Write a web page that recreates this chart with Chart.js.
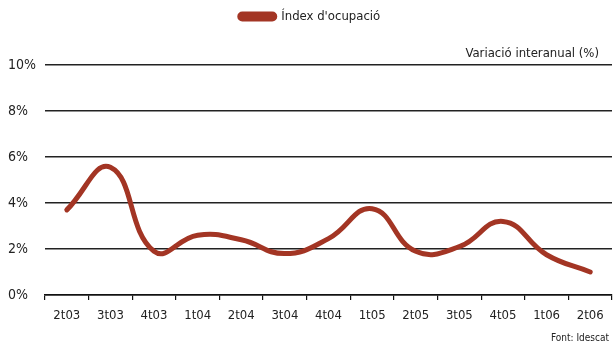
<!DOCTYPE html>
<html>
<head>
<meta charset="utf-8">
<script src="https://cdn.jsdelivr.net/npm/chart.js@4"></script>
<style>
    html, body { margin: 0; padding: 0; background: #fff; }
    #wrap { width: 615px; height: 344px; }
</style>
</head>
<body>
<div id="wrap"><canvas id="ocupacioChart" width="615" height="344"></canvas></div>
<script>
// data
const quarters = ['2t03', '3t03', '4t03', '1t04', '2t04', '3t04', '4t04', '1t05', '2t05', '3t05', '4t05', '1t06', '2t06'];
const ocupacio = [3.7, 5.55, 1.9, 2.6, 2.4, 1.8, 2.45, 3.75, 1.9, 2.1, 3.2, 1.75, 1.0];
const yTicks = [0, 2, 4, 6, 8, 10];

const fontFamily = '"DejaVu Sans Condensed", "Liberation Sans Narrow", sans-serif';
const lineColor = '#a33524';

// extra texts: axis caption and source, plus room under the legend
const textPlugin = {
    id: 'extraTexts',
    beforeInit(chart) {
        const oldFit = chart.legend.fit;
        chart.legend.fit = function () {
            oldFit.call(this);
            this.height += 32;
        };
    },
    afterDraw(chart) {
        const ctx = chart.ctx;
        const area = chart.chartArea;
        ctx.save();
        ctx.fillStyle = '#222';
        ctx.font = '13px ' + fontFamily;
        ctx.textAlign = 'right';
        ctx.textBaseline = 'alphabetic';
        ctx.fillText('Variació interanual (%)', area.right - 13, area.top - 8);
        ctx.font = '10px ' + fontFamily;
        ctx.fillText('Font: Idescat', area.right - 3, 341);
        ctx.restore();
    }
};

let ocupacioChart = new Chart(document.getElementById('ocupacioChart'), {
    type: 'line',
    data: {
        labels: quarters,
        datasets: [{
            label: "Índex d'ocupació",
            data: ocupacio,
            borderColor: lineColor,
            backgroundColor: lineColor,
            borderWidth: 5,
            borderCapStyle: 'round',
            tension: 0.45,
            pointRadius: 0,
            fill: false
        }]
    },
    options: {
        responsive: false,
        animation: false,
        layout: { padding: { top: 6, right: 3, left: 8, bottom: 0 } },
        plugins: {
            tooltip: { enabled: false },
            legend: {
                position: 'top',
                labels: {
                    boxWidth: 35,
                    boxHeight: 5,
                    useBorderRadius: true,
                    borderRadius: 2.5,
                    padding: 4,
                    color: '#222',
                    font: { family: fontFamily, size: 13 }
                }
            }
        },
        scales: {
            x: {
                offset: true,
                grid: {
                    offset: true,
                    drawOnChartArea: false,
                    drawTicks: true,
                    tickLength: 5,
                    color: '#111',
                    lineWidth: 1.2
                },
                border: { display: true, color: '#111', width: 1.5 },
                ticks: {
                    color: '#222',
                    padding: 8,
                    font: { family: fontFamily, size: 13 }
                },
                afterFit: (scale) => { scale.height = 49; }
            },
            y: {
                min: 0,
                max: 10,
                afterBuildTicks: (scale) => { scale.ticks = yTicks.map(v => ({ value: v })); },
                grid: { drawTicks: false, color: '#222', lineWidth: 1.5 },
                border: { display: false },
                ticks: {
                    crossAlign: 'far',
                    padding: 10,
                    color: '#222',
                    font: { family: fontFamily, size: 14 },
                    callback: (v) => v + '%'
                },
                afterFit: (scale) => { scale.width = 37; }
            }
        }
    },
    plugins: [textPlugin]
});
</script>
</body>
</html>
